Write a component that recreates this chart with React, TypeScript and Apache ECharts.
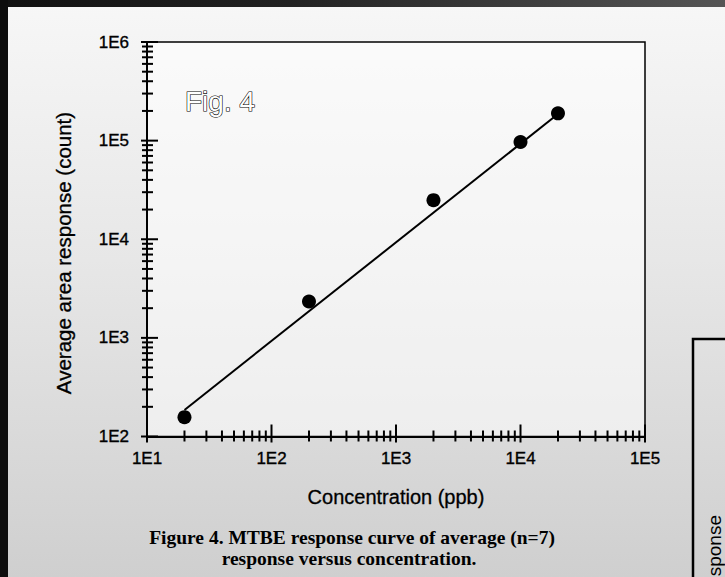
import React, { useEffect, useRef } from 'react';
import * as echarts from 'echarts';

// ---- data ----
const concentration = [20, 200, 2000, 10000, 20000];
const avgResponse = [157, 2340, 24900, 96800, 189000];
const fitConcentration = [20, 20000];
const fitResponse = [186, 186000];

const xMajorTicks = [10, 100, 1000, 10000, 100000];
const xMinorTicks = [
  20, 30, 40, 50, 60, 70, 80, 90,
  200, 300, 400, 500, 600, 700, 800, 900,
  2000, 3000, 4000, 5000, 6000, 7000, 8000, 9000,
  20000, 30000, 40000, 50000, 60000, 70000, 80000, 90000,
];
const yMajorTicks = [100, 1000, 10000, 100000, 1000000];
const yMinorTicks = [
  200, 300, 400, 500, 600, 700, 800, 900,
  2000, 3000, 4000, 5000, 6000, 7000, 8000, 9000,
  20000, 30000, 40000, 50000, 60000, 70000, 80000, 90000,
  200000, 300000, 400000, 500000, 600000, 700000, 800000, 900000,
];

const X_MIN = 10;
const X_MAX = 100000;
const Y_MIN = 100;
const Y_MAX = 1000000;

const xAxisName = 'Concentration (ppb)';
const yAxisName = 'Average area response (count)';
const figLabel = 'Fig. 4';
const captionLines = [
  'Figure 4. MTBE response curve of average (n=7)',
  'response versus concentration.',
];
const neighborAxisText = 'sponse';

const SANS = '"Liberation Sans", Arial, sans-serif';
const SERIF = '"Liberation Serif", "Times New Roman", serif';

function tickSeries(name: string, values: number[], axis: 'x' | 'y', inside: number, outside: number) {
  return {
    type: 'custom',
    name,
    silent: true,
    clip: false,
    z: 6,
    data: values.map((v) => (axis === 'x' ? [v, Y_MIN] : [X_MIN, v])),
    renderItem: (_params: any, api: any) => {
      const p = api.coord([api.value(0), api.value(1)]);
      const shape =
        axis === 'x'
          ? { x1: p[0], y1: p[1] - inside, x2: p[0], y2: p[1] + outside }
          : { x1: p[0] - outside, y1: p[1], x2: p[0] + inside, y2: p[1] };
      return { type: 'line', shape, style: { stroke: '#000', lineWidth: 2 } };
    },
  };
}

const expLabel = (v: number) => '1E' + Math.round(Math.log10(v));

export default function App() {
  const ref = useRef<HTMLDivElement>(null);

  useEffect(() => {
    if (!ref.current) return;
    const chart = echarts.init(ref.current, null, { renderer: 'svg' });

    const labelStyle = {
      color: '#000',
      fontSize: 17,
      fontFamily: SANS,
      textBorderColor: '#000',
      textBorderWidth: 0.35,
    };

    const option: any = {
      animation: false,
      backgroundColor: '#ffffff',
      grid: {
        left: 147,
        right: 80,
        top: 42,
        bottom: 140.5,
        show: true,
        backgroundColor: 'rgba(255,255,255,0.55)',
        borderColor: '#000',
        borderWidth: 1.5,
      },
      xAxis: {
        type: 'log',
        logBase: 10,
        min: X_MIN,
        max: X_MAX,
        splitNumber: 4,
        position: 'bottom',
        axisLine: { show: true, lineStyle: { color: '#000', width: 2 } },
        axisTick: { show: false },
        splitLine: { show: false },
        axisLabel: {
          ...labelStyle,
          formatter: expLabel,
          margin: 13,
          showMinLabel: true,
          showMaxLabel: true,
        },
        name: xAxisName,
        nameLocation: 'middle',
        nameGap: 50,
        nameTextStyle: {
          color: '#000',
          fontSize: 20,
          fontFamily: SANS,
          textBorderColor: '#000',
          textBorderWidth: 0.3,
        },
      },
      yAxis: {
        type: 'log',
        logBase: 10,
        min: Y_MIN,
        max: Y_MAX,
        splitNumber: 4,
        position: 'left',
        axisLine: { show: true, lineStyle: { color: '#000', width: 2 } },
        axisTick: { show: false },
        splitLine: { show: false },
        axisLabel: {
          ...labelStyle,
          formatter: expLabel,
          margin: 18,
          showMinLabel: true,
          showMaxLabel: true,
        },
      },
      graphic: [
        {
          type: 'rect',
          z: -10,
          silent: true,
          shape: { x: 0, y: 0, width: 725, height: 577 },
          style: {
            fill: new echarts.graphic.LinearGradient(0, 0, 0, 1, [
              { offset: 0, color: '#f7f7f7' },
              { offset: 0.45, color: '#e7e7e7' },
              { offset: 1, color: '#cfcfcf' },
            ]),
          },
        },
        {
          type: 'rect',
          z: 100,
          silent: true,
          shape: { x: 0, y: 0, width: 725, height: 7 },
          style: {
            fill: new echarts.graphic.LinearGradient(0, 0, 1, 0, [
              { offset: 0, color: '#111' },
              { offset: 0.4, color: '#222' },
              { offset: 1, color: '#555' },
            ]),
          },
        },
        {
          type: 'rect',
          z: 100,
          silent: true,
          shape: { x: 0, y: 0, width: 8, height: 577 },
          style: { fill: '#0d0d0d' },
        },
        {
          type: 'polyline',
          z: 100,
          silent: true,
          shape: { points: [[725, 339], [693, 339], [693, 577]] },
          style: { stroke: '#000', lineWidth: 2.5, fill: 'none' },
        },
        {
          type: 'text',
          z: 100,
          silent: true,
          x: 724,
          y: 515,
          rotation: Math.PI / 2,
          style: {
            text: neighborAxisText,
            fontSize: 19,
            fontFamily: SANS,
            fill: '#000',
            align: 'right',
            verticalAlign: 'bottom',
          },
        },
        {
          type: 'text',
          z: 100,
          silent: true,
          x: 63,
          y: 253,
          rotation: Math.PI / 2,
          style: {
            text: yAxisName,
            fontSize: 20.5,
            fontFamily: SANS,
            fill: '#000',
            stroke: '#000',
            lineWidth: 0.3,
            align: 'center',
            verticalAlign: 'middle',
          },
        },
        {
          type: 'text',
          z: 100,
          silent: true,
          x: 185,
          y: 87,
          style: {
            text: figLabel,
            fontSize: 28,
            fontFamily: SANS,
            fill: '#ffffff',
            stroke: '#000000',
            lineWidth: 1.2,
            align: 'left',
            verticalAlign: 'top',
          },
        },
        {
          type: 'text',
          z: 100,
          silent: true,
          x: 352,
          y: 537,
          style: {
            text: captionLines[0],
            fontSize: 19.5,
            fontWeight: 'bold',
            fontFamily: SERIF,
            fill: '#000',
            align: 'center',
            verticalAlign: 'middle',
          },
        },
        {
          type: 'text',
          z: 100,
          silent: true,
          x: 349,
          y: 558,
          style: {
            text: captionLines[1],
            fontSize: 19.5,
            fontWeight: 'bold',
            fontFamily: SERIF,
            fill: '#000',
            align: 'center',
            verticalAlign: 'middle',
          },
        },
      ],
      series: [
        {
          type: 'line',
          name: 'fit',
          data: fitConcentration.map((x, i) => [x, fitResponse[i]]),
          symbol: 'none',
          lineStyle: { color: '#000', width: 2 },
          z: 3,
          silent: true,
        },
        {
          type: 'scatter',
          name: 'Average response',
          data: concentration.map((x, i) => [x, avgResponse[i]]),
          symbol: 'circle',
          symbolSize: 14,
          itemStyle: { color: '#000', opacity: 1 },
          z: 4,
          silent: true,
        },
        tickSeries('xMinorTicks', xMinorTicks, 'x', 6, 5),
        tickSeries('xMajorTicks', xMajorTicks, 'x', 12, 6),
        tickSeries('yMinorTicks', yMinorTicks, 'y', 6, 5),
        tickSeries('yMajorTicks', yMajorTicks, 'y', 11, 6),
      ],
    };

    chart.setOption(option);
    return () => chart.dispose();
  }, []);

  return (
    <div
      ref={ref}
      style={{ position: 'fixed', left: 0, top: 0, width: 725, height: 577 }}
    />
  );
}
